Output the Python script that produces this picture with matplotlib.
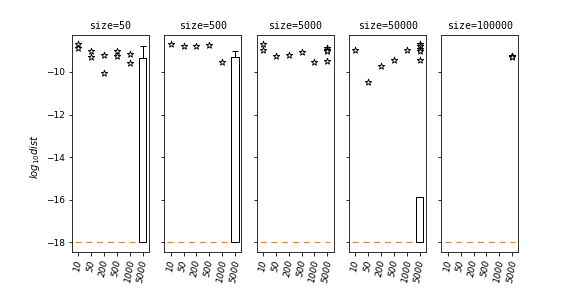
import matplotlib
matplotlib.use("Agg")
import matplotlib.pyplot as plt
import numpy as np

plt.rcParams['font.family'] = ['DejaVu Sans', 'Noto Sans CJK SC']
plt.rcParams['axes.unicode_minus'] = True

sizes = ["size=50", "size=500", "size=5000", "size=50000", "size=100000"]
tick_labels = ["10", "50", "200", "500", "1000", "5000"]

# star points per panel: (category index, log10 dist)
stars_x = [
    [0, 0, 1, 1, 2, 2, 3, 3, 4, 4],
    [0, 1, 2, 3, 4],
    [0, 0, 1, 2, 3, 4, 5, 5, 5, 5],
    [0, 1, 2, 3, 4, 5, 5, 5, 5, 5],
    [5, 5, 5],
]
stars_y = [
    [-8.67, -8.88, -9.01, -9.28, -9.19, -10.06, -9.04, -9.23, -9.15, -9.56],
    [-8.67, -8.80, -8.76, -8.72, -9.53],
    [-8.67, -8.98, -9.27, -9.19, -9.08, -9.55, -8.87, -8.95, -9.00, -9.47],
    [-8.98, -10.49, -9.74, -9.42, -8.95, -8.67, -8.80, -8.90, -9.04, -9.45],
    [-9.25, -9.27, -9.29],
]
# bar at category 5 (top value) and upper error
bar_top = [-9.36, -9.29, np.nan, -15.88, np.nan]
bar_err = [0.58, 0.28, 0.0, 0.0, 0.0]
baseline = -18.0

fig, axes = plt.subplots(1, 5, figsize=(8, 4), dpi=72, sharey=True)
fig.subplots_adjust(left=0.125, right=0.9, top=0.88, bottom=0.124, wspace=0.2)

for i, ax in enumerate(axes):
    ax.axhline(baseline, xmin=0.04, xmax=0.955, color='#ff7f0e', ls=(0, (5, 4)), lw=1.2, zorder=1)
    if not np.isnan(bar_top[i]):
        h = bar_top[i] - baseline
        ax.bar([5], [h], bottom=baseline, width=0.6, color='white', edgecolor='black', lw=1, zorder=2)
        if bar_err[i] > 0:
            ax.errorbar([5], [bar_top[i]], yerr=[[0], [bar_err[i]]], fmt='none', ecolor='black',
                        elinewidth=1, capsize=3, zorder=3)
    ax.scatter(stars_x[i], stars_y[i], marker='*', s=45, facecolors='white', edgecolors='black',
               linewidths=0.9, zorder=4)
    ax.set_title(sizes[i], fontsize=10, family='DejaVu Sans Mono')
    ax.set_xticks(range(len(tick_labels)))
    ax.set_xticklabels(tick_labels, rotation=80, fontsize=9, style='italic')
    ax.set_xlim(-0.5, 5.5)

axes[0].set_ylim(-18.47, -8.245)
axes[0].set_yticks([-10, -12, -14, -16, -18])
axes[0].set_ylabel(r'$log_{10}dist$', fontsize=10)
axes[0].yaxis.set_label_coords(-0.39, 0.44)
for ax in axes:
    ax.tick_params(axis='y', labelsize=9)

fig.savefig("out.png", dpi=72)
